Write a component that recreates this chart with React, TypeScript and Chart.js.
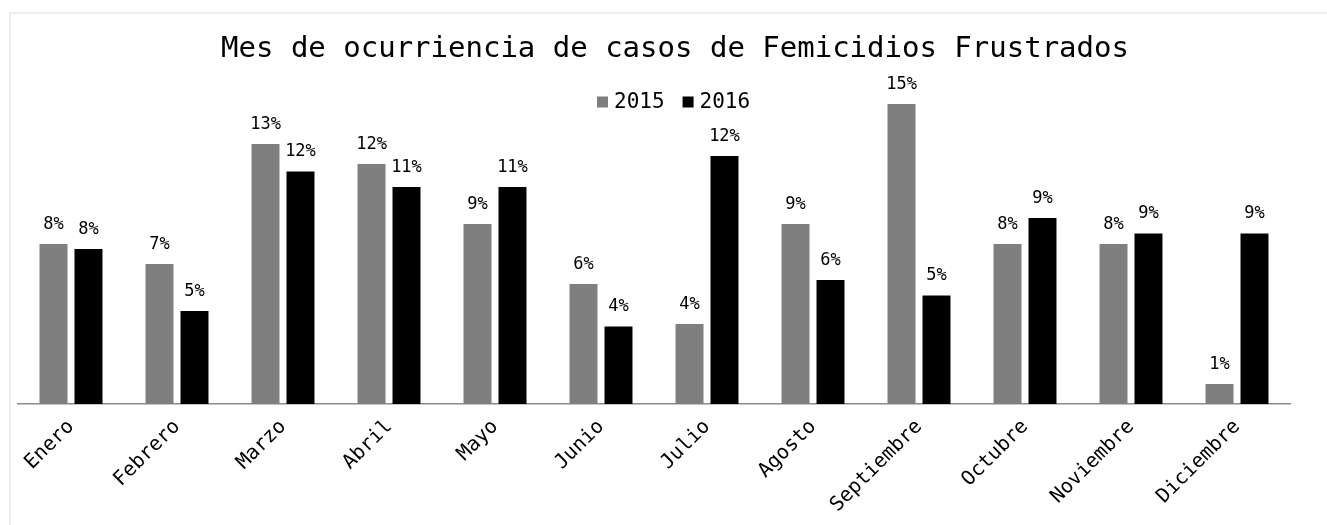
import React, { useEffect, useRef } from "react";
import { Chart, registerables } from "chart.js";

Chart.register(...registerables);

const months = [
  "Enero",
  "Febrero",
  "Marzo",
  "Abril",
  "Mayo",
  "Junio",
  "Julio",
  "Agosto",
  "Septiembre",
  "Octubre",
  "Noviembre",
  "Diciembre",
];
const values2015 = [8, 7, 13, 12, 9, 6, 4, 9, 15, 8, 8, 1];
const values2016 = [7.75, 4.65, 11.63, 10.85, 10.85, 3.88, 12.4, 6.2, 5.43, 9.3, 8.53, 8.53];
const seriesNames = ["2015", "2016"];
const seriesColors = ["#7f7f7f", "#000000"];
const chartTitle = "Mes de ocurriencia de casos de Femicidios Frustrados";

const FONT = "'DejaVu Sans Mono', monospace";

const overlayPlugin = {
  id: "overlay",
  afterDraw(chart: any) {
    const ctx = chart.ctx as CanvasRenderingContext2D;
    ctx.save();
    // Title
    ctx.fillStyle = "#000";
    ctx.font = `29px ${FONT}`;
    ctx.textAlign = "center";
    ctx.textBaseline = "middle";
    ctx.fillText(chartTitle, 675, 49);

    // Legend
    ctx.font = `21px ${FONT}`;
    ctx.textAlign = "left";
    ctx.textBaseline = "middle";
    const legendY = 102;
    let x = 597;
    seriesNames.forEach((name, i) => {
      ctx.fillStyle = seriesColors[i];
      ctx.fillRect(x, legendY - 5.5, 11, 11);
      ctx.fillStyle = "#000";
      ctx.fillText(name, x + 17, legendY + 1);
      x += 17 + ctx.measureText(name).width + 18;
    });

    // Data labels
    ctx.font = `17px ${FONT}`;
    ctx.textAlign = "center";
    ctx.textBaseline = "bottom";
    ctx.fillStyle = "#000";
    chart.data.datasets.forEach((ds: any, i: number) => {
      const meta = chart.getDatasetMeta(i);
      meta.data.forEach((el: any, j: number) => {
        const v = ds.data[j] as number;
        ctx.fillText(Math.round(v) + "%", el.x, el.y - 11);
      });
    });
    ctx.restore();
  },
};

export default function App() {
  const canvasRef = useRef<HTMLCanvasElement | null>(null);

  useEffect(() => {
    if (!canvasRef.current) return;
    const chart = new Chart(canvasRef.current, {
      type: "bar",
      data: {
        labels: months,
        datasets: [
          {
            label: seriesNames[0],
            data: values2015,
            backgroundColor: seriesColors[0],
            categoryPercentage: 0.66,
            barPercentage: 0.8,
          },
          {
            label: seriesNames[1],
            data: values2016,
            backgroundColor: seriesColors[1],
            categoryPercentage: 0.66,
            barPercentage: 0.8,
          },
        ],
      },
      options: {
        animation: false,
        responsive: true,
        maintainAspectRatio: false,
        layout: { padding: { top: 84, left: 18, right: 37, bottom: 0 } },
        plugins: {
          legend: { display: false },
          title: { display: false },
          tooltip: { enabled: false },
        },
        scales: {
          x: {
            grid: { display: false, drawTicks: false },
            border: { display: true, color: "#8c8c8c", width: 1.5 },
            ticks: {
              autoSkip: false,
              minRotation: 45,
              maxRotation: 45,
              padding: 11,
              color: "#000",
              font: { family: FONT, size: 20 },
            },
            afterFit: (scale: any) => {
              scale.height = 121;
            },
          },
          y: {
            display: false,
            min: 0,
            max: 16,
          },
        },
      },
      plugins: [overlayPlugin],
    });
    return () => chart.destroy();
  }, []);

  return (
    <div style={{ position: "fixed", left: 0, top: 0, width: 1327, height: 525, background: "#fff", overflow: "hidden" }}>
      <div
        style={{
          position: "absolute",
          left: 9,
          top: 12,
          width: 1400,
          height: 700,
          border: "2px solid #efefef",
          boxSizing: "border-box",
        }}
      />
      <div style={{ position: "absolute", left: 0, top: 0, width: 1327, height: 525 }}>
        <canvas ref={canvasRef} />
      </div>
    </div>
  );
}
